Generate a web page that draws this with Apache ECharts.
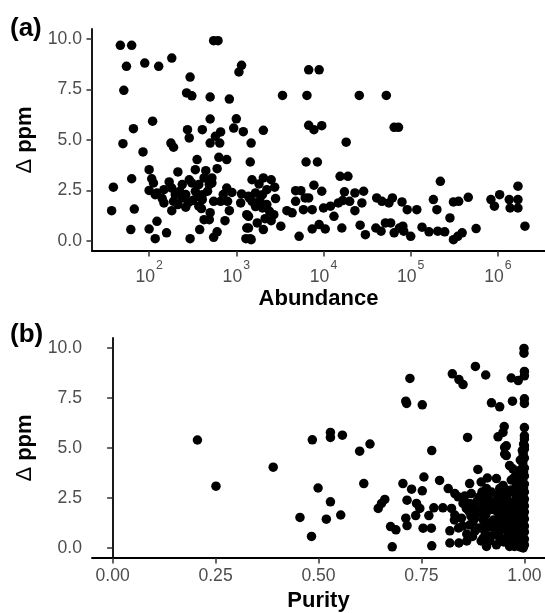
<!DOCTYPE html>
<html>
<head>
<meta charset="utf-8">
<script src="https://cdn.jsdelivr.net/npm/echarts@6/dist/echarts.min.js"></script>
<style>
html,body{margin:0;padding:0;background:#fff;}
#chart{width:545px;height:613px;}
</style>
</head>
<body>
<div id="chart"></div>
<script>
// Panel (a): [log10(abundance), delta ppm]
var panelAPoints = [
[1.67,9.69],[1.80,9.69],[2.74,9.92],[2.79,9.92],[1.74,8.65],[1.95,8.81],[2.11,8.65],[2.26,9.06],[3.06,8.70],[3.03,8.37],[2.47,8.12],[1.71,7.46],[2.43,7.33],[2.49,7.19],[2.70,7.13],[2.92,7.03],
[2.04,5.93],[1.82,5.56],[2.70,6.04],[3.00,6.05],[2.97,5.59],[3.08,5.41],[2.44,5.51],[2.46,5.10],[2.61,5.51],[2.82,5.40],[2.76,5.18],[2.70,4.85],[2.81,4.85],[1.70,4.82],[2.25,4.85],[2.28,4.64],[1.93,4.41],[3.17,4.85],[2.80,4.14],[2.89,4.03],[2.55,4.03],[3.16,3.91],
[2.00,3.53],[2.03,3.08],[2.05,2.87],[1.80,3.08],[2.33,3.42],[2.53,3.53],[2.65,3.48],[2.78,3.58],[1.59,2.66],
[2.09,2.38],[2.17,2.54],[2.23,2.92],[2.26,2.62],[2.30,2.29],[2.38,2.79],[2.46,3.03],[2.49,2.87],[2.57,2.79],[2.63,3.12],[2.69,2.79],[2.72,3.12],[2.53,2.46],[2.61,2.29],[2.67,2.46],[2.72,2.87],[2.89,2.62],
[1.83,1.58],[1.57,1.50],[1.79,0.56],[2.00,0.59],[2.09,0.97],[2.07,0.11],[2.20,0.40],
[2.17,1.88],[2.28,1.96],[2.26,1.50],[2.38,2.13],[2.42,1.67],[2.07,2.29],
[2.57,1.72],[2.61,2.05],[2.74,1.96],[2.82,1.96],[2.90,1.96],[2.92,1.50],
[2.63,1.05],[2.69,1.05],[2.58,0.56],[2.74,0.18],[2.78,0.45],[2.87,1.00],[2.47,0.11],
[3.06,2.33],[3.15,2.13],[3.05,1.88],[3.14,1.22],[3.12,0.64],[3.11,0.11],[3.16,0.11],[3.18,3.03],
[3.83,8.48],[3.95,8.48],[3.53,7.21],[3.81,7.21],[4.41,7.21],[4.72,7.21],[3.83,5.73],[3.89,5.51],[3.98,5.71],[4.81,5.63],[4.86,5.63],[3.31,5.48],[4.26,4.89],[3.80,3.91],[3.93,3.91],[4.19,3.20],[4.28,3.20],
[3.31,3.12],[3.40,3.03],[3.26,2.82],[3.35,2.54],[3.44,2.66],[3.30,2.29],[3.14,2.21],[3.22,2.38],[3.18,1.96],[3.30,1.63],[3.38,1.47],[3.43,1.30],[3.33,1.10],[3.40,1.00],[3.12,1.30],[3.14,0.64],[3.24,0.89],[3.31,0.56],[3.17,0.06],[3.51,0.73],
[3.68,2.49],[3.74,2.49],[3.68,1.96],[3.79,2.13],[3.83,2.13],[3.89,2.76],[3.98,2.46],[3.58,1.50],[3.64,1.39],[3.77,1.55],[3.87,1.55],[3.72,0.23],[3.87,0.59],[3.95,0.81],[4.02,0.59],
[4.00,1.63],[4.08,1.72],[4.12,1.22],[4.17,1.88],[4.22,2.00],[4.24,2.43],[4.30,1.96],[4.36,1.50],[4.36,2.38],[4.44,1.88],[4.46,2.46],[4.21,0.64],[4.42,0.78],[4.48,0.31],
[4.61,2.13],[4.67,1.96],[4.75,1.88],[4.79,2.13],[4.90,1.93],[4.60,0.64],[4.66,0.48],[4.71,0.89],[4.77,0.89],[4.81,0.40],[4.87,0.64],[4.92,0.48],
[5.34,2.95],[6.23,2.71],[4.96,1.55],[5.07,1.55],[5.26,2.05],[5.30,1.55],[5.49,1.93],[5.55,1.96],[5.66,2.16],[5.92,2.05],[5.96,1.72],[6.02,2.29],[6.13,2.05],[6.14,1.63],[6.23,2.05],[6.23,1.63],[5.45,1.14],[6.31,0.73],[4.91,0.73],[5.00,0.23],[5.13,0.68],[5.21,0.45],[5.31,0.48],[5.39,0.45],[5.49,0.06],[5.54,0.23],[5.59,0.40],[5.75,0.61],
[2.35,2.45],[2.42,2.30],[2.50,2.00],[2.55,2.20],[2.15,2.10],[2.33,1.80],[2.45,1.90],[2.60,1.60],[2.70,1.40],[2.00,2.50],[2.85,2.30],[2.95,2.40],[3.22,1.70],[3.27,2.00],[3.35,1.80],[3.45,2.10]
];
// Panel (b): [purity, delta ppm]
var panelBPoints = [
[0.206,5.40],[0.251,3.09],[0.390,4.04],
[0.485,5.41],[0.529,5.78],[0.529,5.53],[0.558,5.64],[0.625,5.20],[0.600,4.84],[0.775,4.87],[0.862,5.53],
[0.499,3.00],[0.529,2.31],[0.455,1.53],[0.519,1.44],[0.554,1.65],[0.483,0.58],[0.610,3.22],
[0.645,1.98],[0.653,2.23],[0.661,2.43],[0.675,1.07],[0.688,0.91],[0.679,0.06],
[0.705,3.22],[0.726,2.94],[0.715,2.39],[0.712,1.49],[0.715,1.12],
[0.738,2.23],[0.746,1.98],[0.736,1.62],[0.756,3.55],[0.752,2.86],[0.754,0.99],[0.774,0.99],[0.768,1.62],[0.780,2.01],[0.775,0.11],
[0.794,3.38],[0.815,2.97],[0.802,2.01],[0.823,1.98],[0.819,0.86],[0.819,0.25],[0.841,0.25],
[0.831,2.72],[0.839,2.56],[0.851,2.23],[0.831,1.65],[0.847,1.49],[0.859,1.98],
[0.867,3.22],[0.871,2.72],[0.867,2.23],[0.875,1.82],[0.867,1.15],[0.874,0.58],[0.887,3.93],
[0.891,2.56],[0.900,2.06],[0.908,2.97],[0.912,2.56],[0.906,1.65],[0.904,0.83],[0.908,0.08],[0.916,1.24],
[0.932,3.47],[0.940,2.97],[0.944,2.56],[0.932,2.14],[0.940,1.65],[0.932,1.15],[0.940,0.50],[0.932,0.16],
[0.952,5.03],[0.956,4.62],[0.964,4.12],[0.948,3.13],[0.960,2.72],[0.956,2.14],[0.964,1.65],[0.952,1.07],[0.964,0.50],[0.964,0.08],
[0.972,3.96],[0.976,3.55],[0.981,3.13],[0.976,2.81],[0.981,2.39],[0.972,1.98],[0.981,1.49],[0.976,0.99],[0.981,0.50],[0.976,0.08],
[0.999,9.98],[0.999,9.74],[0.881,9.08],[0.825,8.71],[0.841,8.42],[0.851,8.17],[0.906,8.65],[0.968,8.50],[0.985,8.37],[1.0,8.83],[1.0,8.61],[0.722,8.48],[0.712,7.34],[0.714,7.23],[0.752,7.16],[0.920,7.26],[0.940,7.06],[0.971,7.34],[1.0,7.46],[1.0,7.23],
[0.951,6.07],[0.948,5.78],[0.936,5.56],[0.956,5.11],[0.952,4.70],[1.0,6.02],[1.0,5.61],[1.0,5.11],[0.995,4.87],
[1.0,5.45],[0.998,5.2],[1.0,4.95],[0.997,4.7],[1.0,4.5],[0.996,4.25],[1.0,4.0],[0.998,3.8],[1.0,3.6],[0.995,3.4],[1.0,3.2],[0.998,3.0],[1.0,2.8],[0.996,2.65],[1.0,2.45],[0.998,2.3],[1.0,2.1],[0.995,1.95],[1.0,1.8],[0.998,1.6],[1.0,1.45],[0.996,1.3],[1.0,1.1],[0.998,0.95],[1.0,0.8],[0.995,0.6],[1.0,0.45],[0.998,0.3],[1.0,0.15],[0.997,0.0],[0.99,0.05],[0.99,0.7],[0.99,1.5],[0.99,2.2],[0.99,3.0],[0.99,3.9],
[0.85,1.1],[0.86,0.7],[0.88,1.5],[0.88,2.0],[0.89,1.0],[0.895,0.35],[0.90,1.4],[0.905,2.3],[0.915,1.9],[0.92,0.6],[0.92,2.8],[0.925,1.4],[0.925,2.3],[0.93,0.9],[0.935,1.8],[0.945,1.3],[0.945,2.0],[0.95,0.3],[0.95,2.5],[0.955,1.6],[0.96,0.8],[0.96,1.3],[0.965,2.3],[0.968,3.4],[0.97,0.3],[0.97,1.2],[0.975,1.8],[0.98,0.7],[0.98,2.0],[0.985,1.1],[0.985,2.6],[0.985,3.6],[0.988,0.3],[0.988,1.7],[0.99,2.6],[0.99,4.4],[0.86,0.35],[0.895,3.3],[0.91,3.5],[0.87,1.6],[0.84,1.0],[0.83,1.4],
[0.885,2.35],[0.895,1.75],[0.91,2.15],[0.915,0.35],[0.92,1.05],[0.928,1.9],[0.935,2.6],[0.938,0.75],[0.942,2.25],[0.948,0.95],[0.95,1.85],[0.953,2.95],[0.958,0.55],[0.958,2.4],[0.962,1.0],[0.966,1.9],[0.968,2.9],[0.97,0.75],[0.972,1.55],[0.974,2.2],[0.977,0.45],[0.978,1.25],[0.98,2.6],[0.982,1.75],[0.983,0.2],[0.984,3.0],[0.986,0.85],[0.987,2.25],[0.989,1.35],[0.992,0.4],[0.992,1.05],[0.993,1.85],[0.993,2.45],[0.994,3.3],[0.994,0.15],[0.875,1.3],[0.88,0.85],[0.9,0.5],[0.897,2.8],[0.905,1.05],[0.855,2.6],[0.865,1.85]
];
var abundanceTicksLog10 = [2, 3, 4, 5, 6];
var purityTicks = [0, 0.25, 0.5, 0.75, 1];
var ppmTicks = [0, 2.5, 5, 7.5, 10];
var panelTags = ['(a)', '(b)'];
var xTitles = ['Abundance', 'Purity'];
var yTitle = '{d|\u0394} ppm';

var FONT = '"Liberation Sans", Arial, Helvetica, sans-serif';
var tickColor = '#333333';
var labelColor = '#4D4D4D';

function yAxis(gi) {
  return {
    type: 'value', gridIndex: gi, min: -0.5, max: 10.5,
    name: yTitle, nameLocation: 'middle', nameGap: 56, nameRotate: 90,
    nameTextStyle: {fontFamily: FONT, fontSize: 22, fontWeight: 'bold', color: '#000',
      rich: {d: {fontFamily: FONT, fontSize: 22, fontWeight: 'normal', color: '#000'}}},
    axisLine: {show: true, lineStyle: {color: '#000', width: 1.8}},
    axisTick: {show: true, length: 5.5, lineStyle: {color: tickColor, width: 1.5}, customValues: ppmTicks},
    axisLabel: {fontFamily: FONT, fontSize: 17.6, color: labelColor, margin: 10, customValues: ppmTicks,
      formatter: function (v) { return v.toFixed(1); }},
    splitLine: {show: false}
  };
}

var option = {
  animation: false,
  backgroundColor: '#fff',
  grid: [
    {left: 92, top: 29, width: 453, height: 222, containLabel: false},
    {left: 92, top: 338, width: 453, height: 222, containLabel: false}
  ],
  xAxis: [
    {
      type: 'value', gridIndex: 0, min: 1.345, max: 6.54,
      name: xTitles[0], nameLocation: 'middle', nameGap: 37,
      nameTextStyle: {fontFamily: FONT, fontSize: 22, fontWeight: 'bold', color: '#000'},
      axisLine: {show: true, onZero: false, lineStyle: {color: '#000', width: 1.8}},
      axisTick: {show: true, length: 5.5, lineStyle: {color: tickColor, width: 1.5}, customValues: abundanceTicksLog10},
      axisLabel: {fontFamily: FONT, fontSize: 17.6, color: labelColor, margin: 9, customValues: abundanceTicksLog10,
        formatter: function (v) { return '{b|10}{s|' + Math.round(v) + '}'; },
        rich: {
          b: {fontFamily: FONT, fontSize: 17.6, color: labelColor, lineHeight: 26, verticalAlign: 'bottom'},
          s: {fontFamily: FONT, fontSize: 12.3, color: labelColor, lineHeight: 26, verticalAlign: 'top', padding: [0, 0, 0, 1]}
        }},
      splitLine: {show: false}
    },
    {
      type: 'value', gridIndex: 1, min: -0.05, max: 1.05,
      name: xTitles[1], nameLocation: 'middle', nameGap: 32,
      nameTextStyle: {fontFamily: FONT, fontSize: 22, fontWeight: 'bold', color: '#000'},
      axisLine: {show: true, onZero: false, lineStyle: {color: '#000', width: 1.8}},
      axisTick: {show: true, length: 5.5, lineStyle: {color: tickColor, width: 1.5}, customValues: purityTicks},
      axisLabel: {fontFamily: FONT, fontSize: 17.6, color: labelColor, margin: 9, customValues: purityTicks,
        formatter: function (v) { return v.toFixed(2); }},
      splitLine: {show: false}
    }
  ],
  yAxis: [yAxis(0), yAxis(1)],
  graphic: [
    {type: 'text', left: 10, top: 16, style: {text: panelTags[0], font: 'bold 26px ' + FONT, fill: '#000'}},
    {type: 'text', left: 10, top: 322, style: {text: panelTags[1], font: 'bold 26px ' + FONT, fill: '#000'}}
  ],
  series: [
    {type: 'scatter', xAxisIndex: 0, yAxisIndex: 0, data: panelAPoints, symbolSize: 9.5,
      itemStyle: {color: '#000', opacity: 1}, silent: true},
    {type: 'scatter', xAxisIndex: 1, yAxisIndex: 1, data: panelBPoints, symbolSize: 9.5,
      itemStyle: {color: '#000', opacity: 1}, silent: true}
  ]
};
var chart = echarts.init(document.getElementById('chart'), null, {renderer: 'canvas'});
chart.setOption(option);
</script>
</body>
</html>
